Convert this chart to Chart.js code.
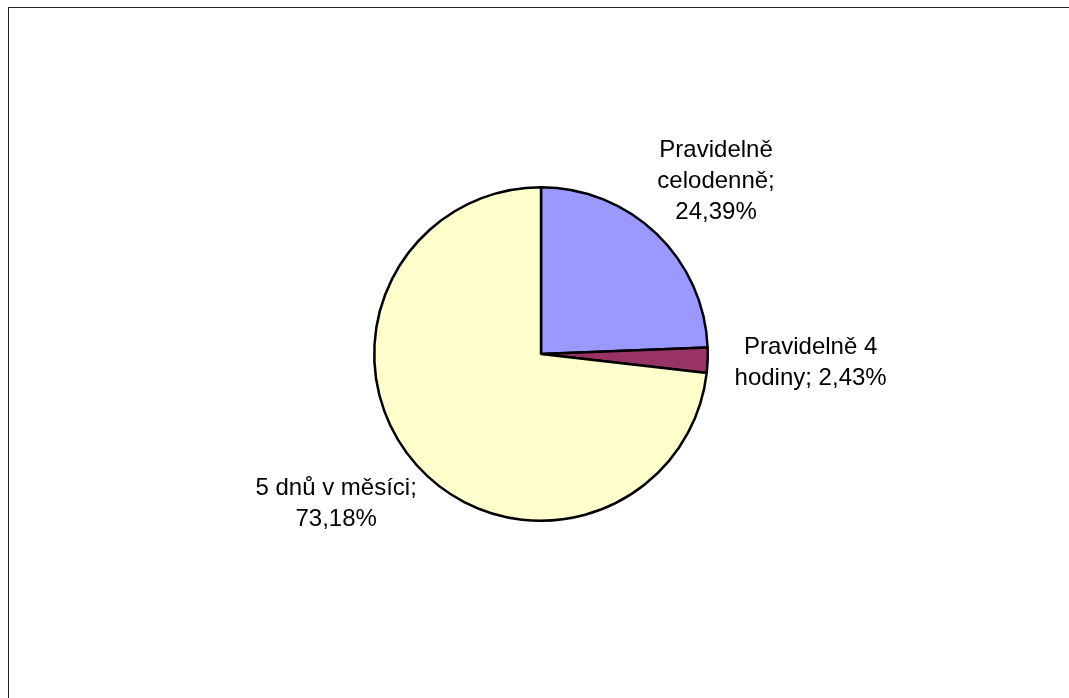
<!DOCTYPE html>
<html>
<head>
<meta charset="utf-8">
<script src="https://cdn.jsdelivr.net/npm/chart.js@4"></script>
<style>
  html, body { margin:0; padding:0; background:#fff; overflow:hidden; }
  #wrap { position:relative; width:1069px; height:698px; }
  #frame { position:absolute; left:8px; top:7px; width:1100px; height:740px; border:1.5px solid #222; box-sizing:border-box; }
  #pie { position:absolute; left:0; top:0; }
</style>
</head>
<body>
<div id="wrap">
  <div id="frame"></div>
  <canvas id="pie" width="1069" height="698"></canvas>
</div>
<script>
/* =========================
   DATA
========================= */
const categories = ["Pravidelně celodenně", "Pravidelně 4 hodiny", "5 dnů v měsíci"]
const shares = [24.39, 2.43, 73.18]
const labelLines = [
  ["Pravidelně", "celodenně;", "24,39%"],
  ["Pravidelně 4", "hodiny; 2,43%"],
  ["5 dnů v měsíci;", "73,18%"]
]
const sliceColors = ["#9999ff", "#993366", "#ffffcc"]

const FONT = "24px 'Liberation Sans', Arial, sans-serif"
const LINE_H = 31
const GAP = 27

/* =========================
   LABEL PLUGIN
========================= */
const outsideLabels = {
  id: "outsideLabels",
  afterDatasetsDraw(chart){
    const ctx = chart.ctx
    const meta = chart.getDatasetMeta(0)
    ctx.save()
    ctx.font = FONT
    ctx.fillStyle = "#000"
    ctx.textAlign = "center"
    ctx.textBaseline = "middle"

    meta.data.forEach((arc, i) => {
      const p = arc.getProps(["x","y","startAngle","endAngle","outerRadius"], true)
      const mid = (p.startAngle + p.endAngle) / 2
      const lines = labelLines[i]
      const w = Math.max(...lines.map(t => ctx.measureText(t).width))
      const h = lines.length * LINE_H
      const ax = p.x + Math.cos(mid) * (p.outerRadius + GAP)
      const ay = p.y + Math.sin(mid) * (p.outerRadius + GAP)
      const cx = ax + Math.cos(mid) * w / 2
      const cy = ay + Math.sin(mid) * h / 2
      lines.forEach((t, k) => {
        ctx.fillText(t, cx, cy - h / 2 + LINE_H * (k + 0.5))
      })
    })
    ctx.restore()
  }
}

/* =========================
   CHART
========================= */
new Chart(document.getElementById("pie"), {
  type: "pie",
  data: {
    labels: categories,
    datasets: [{
      data: shares,
      backgroundColor: sliceColors,
      borderColor: "#000",
      borderWidth: 2.5
    }]
  },
  options: {
    responsive: false,
    animation: false,
    layout: { padding: { left: 373, right: 360, top: 186, bottom: 176 } },
    plugins: {
      legend: { display: false },
      tooltip: { enabled: false }
    }
  },
  plugins: [outsideLabels]
})
</script>
</body>
</html>
